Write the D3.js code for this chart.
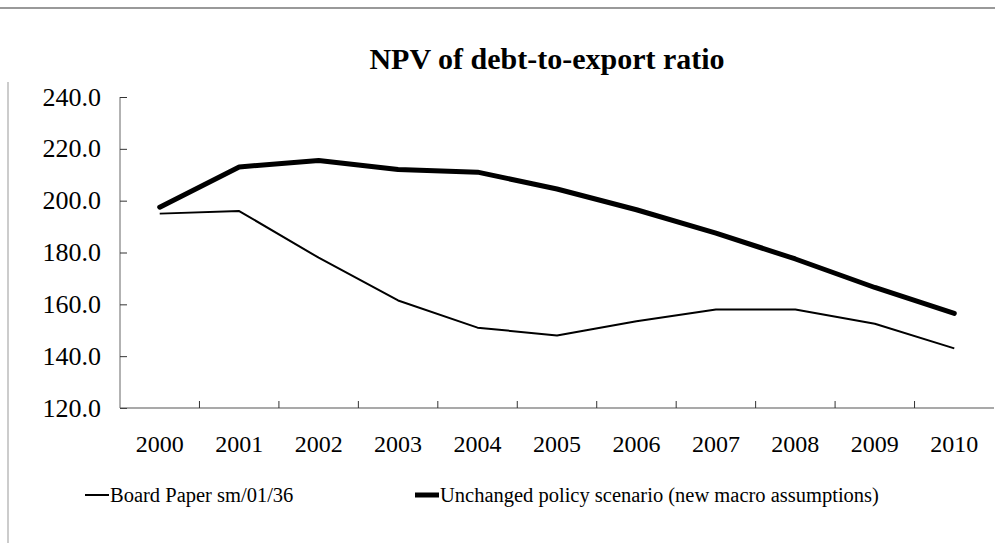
<!DOCTYPE html>
<html>
<head>
<meta charset="utf-8">
<script src="https://cdn.jsdelivr.net/npm/d3@7"></script>
<style>
  body { margin: 0; background: #fff; }
  svg { display: block; }
  text { font-family: 'Liberation Serif', 'Times New Roman', serif; fill: #000; }
</style>
</head>
<body>
<div id="app"></div>
<script>
// chart values
var years = ["2000", "2001", "2002", "2003", "2004", "2005", "2006", "2007", "2008", "2009", "2010"];
var boardPaper = [195.0, 196.0, 178.0, 161.5, 151.0, 148.0, 153.5, 158.0, 158.0, 152.5, 143.0];
var unchangedPolicy = [197.5, 213.0, 215.5, 212.0, 211.0, 204.5, 196.5, 187.5, 177.5, 166.5, 156.5];
var yTicks = [120, 140, 160, 180, 200, 220, 240];
var seriesNames = ["Board Paper sm/01/36", "Unchanged policy scenario (new macro assumptions)"];

var width = 995,
  height = 543;

var svg = d3.select("#app")
  .append("svg")
  .attr("width", width)
  .attr("height", height);

// scan frame lines
svg.append("line")
  .attr("x1", 0).attr("x2", width)
  .attr("y1", 8).attr("y2", 8)
  .attr("stroke", "#777").attr("stroke-width", 1.5);
svg.append("line")
  .attr("x1", 8).attr("x2", 8)
  .attr("y1", 82).attr("y2", height)
  .attr("stroke", "#999").attr("stroke-width", 1);

var x = d3.scaleBand()
  .domain(years)
  .range([120, 994]);

var y = d3.scaleLinear()
  .domain([120, 240])
  .range([408, 97]);

// title
svg.append("text")
  .attr("x", 547)
  .attr("y", 69)
  .attr("text-anchor", "middle")
  .style("font-weight", "bold")
  .style("font-size", "30px")
  .text("NPV of debt-to-export ratio");

// y axis, ticks pointing inward
var yAxis = svg.append("g")
  .attr("transform", "translate(120,0)")
  .call(d3.axisRight(y).tickValues(yTicks).tickSize(7).tickFormat(""));
yAxis.select(".domain").attr("d", "M0," + y(240) + "V" + y(120)).attr("stroke", "#666");
yAxis.selectAll(".tick line").attr("stroke", "#333");

svg.append("g").selectAll("text")
  .data(yTicks)
  .enter().append("text")
  .attr("x", 101)
  .attr("y", d => y(d))
  .attr("dy", "0.33em")
  .attr("text-anchor", "end")
  .style("font-size", "26px")
  .text(d => d.toFixed(1));

// x axis, tick marks on category boundaries
var xAxis = svg.append("g")
  .attr("transform", "translate(0," + y(120) + ")");
xAxis.append("line")
  .attr("x1", 120).attr("x2", 994)
  .attr("stroke", "#555").attr("stroke-width", 1.2);
xAxis.selectAll(".tk")
  .data(years.slice(1))
  .enter().append("line")
  .attr("class", "tk")
  .attr("x1", d => x(d)).attr("x2", d => x(d))
  .attr("y1", 0).attr("y2", -7)
  .attr("stroke", "#333");
xAxis.selectAll("text")
  .data(years)
  .enter().append("text")
  .attr("x", d => x(d) + x.bandwidth() / 2)
  .attr("y", 44)
  .attr("text-anchor", "middle")
  .style("font-size", "24px")
  .text(d => d);

// lines
var line = d3.line()
  .x((d, i) => x(years[i]) + x.bandwidth() / 2)
  .y(d => y(d));

svg.append("path")
  .datum(boardPaper)
  .attr("d", line)
  .attr("fill", "none")
  .attr("stroke", "#000")
  .attr("stroke-width", 2)
  .attr("stroke-linejoin", "round");

svg.append("path")
  .datum(unchangedPolicy)
  .attr("d", line)
  .attr("fill", "none")
  .attr("stroke", "#000")
  .attr("stroke-width", 5)
  .attr("stroke-linejoin", "round")
  .attr("stroke-linecap", "round");

// legend
var legend = svg.append("g")
  .attr("transform", "translate(0,495)");
var legendItems = [
  { name: seriesNames[0], x0: 85, x1: 109, w: 2 },
  { name: seriesNames[1], x0: 415, x1: 439, w: 5 }
];
legendItems.forEach(function (d) {
  legend.append("line")
    .attr("x1", d.x0).attr("x2", d.x1)
    .attr("stroke", "#000").attr("stroke-width", d.w);
  legend.append("text")
    .attr("x", d.x1 + 1)
    .attr("dy", "0.33em")
    .style("font-size", "20.5px")
    .text(d.name);
});
</script>
</body>
</html>
